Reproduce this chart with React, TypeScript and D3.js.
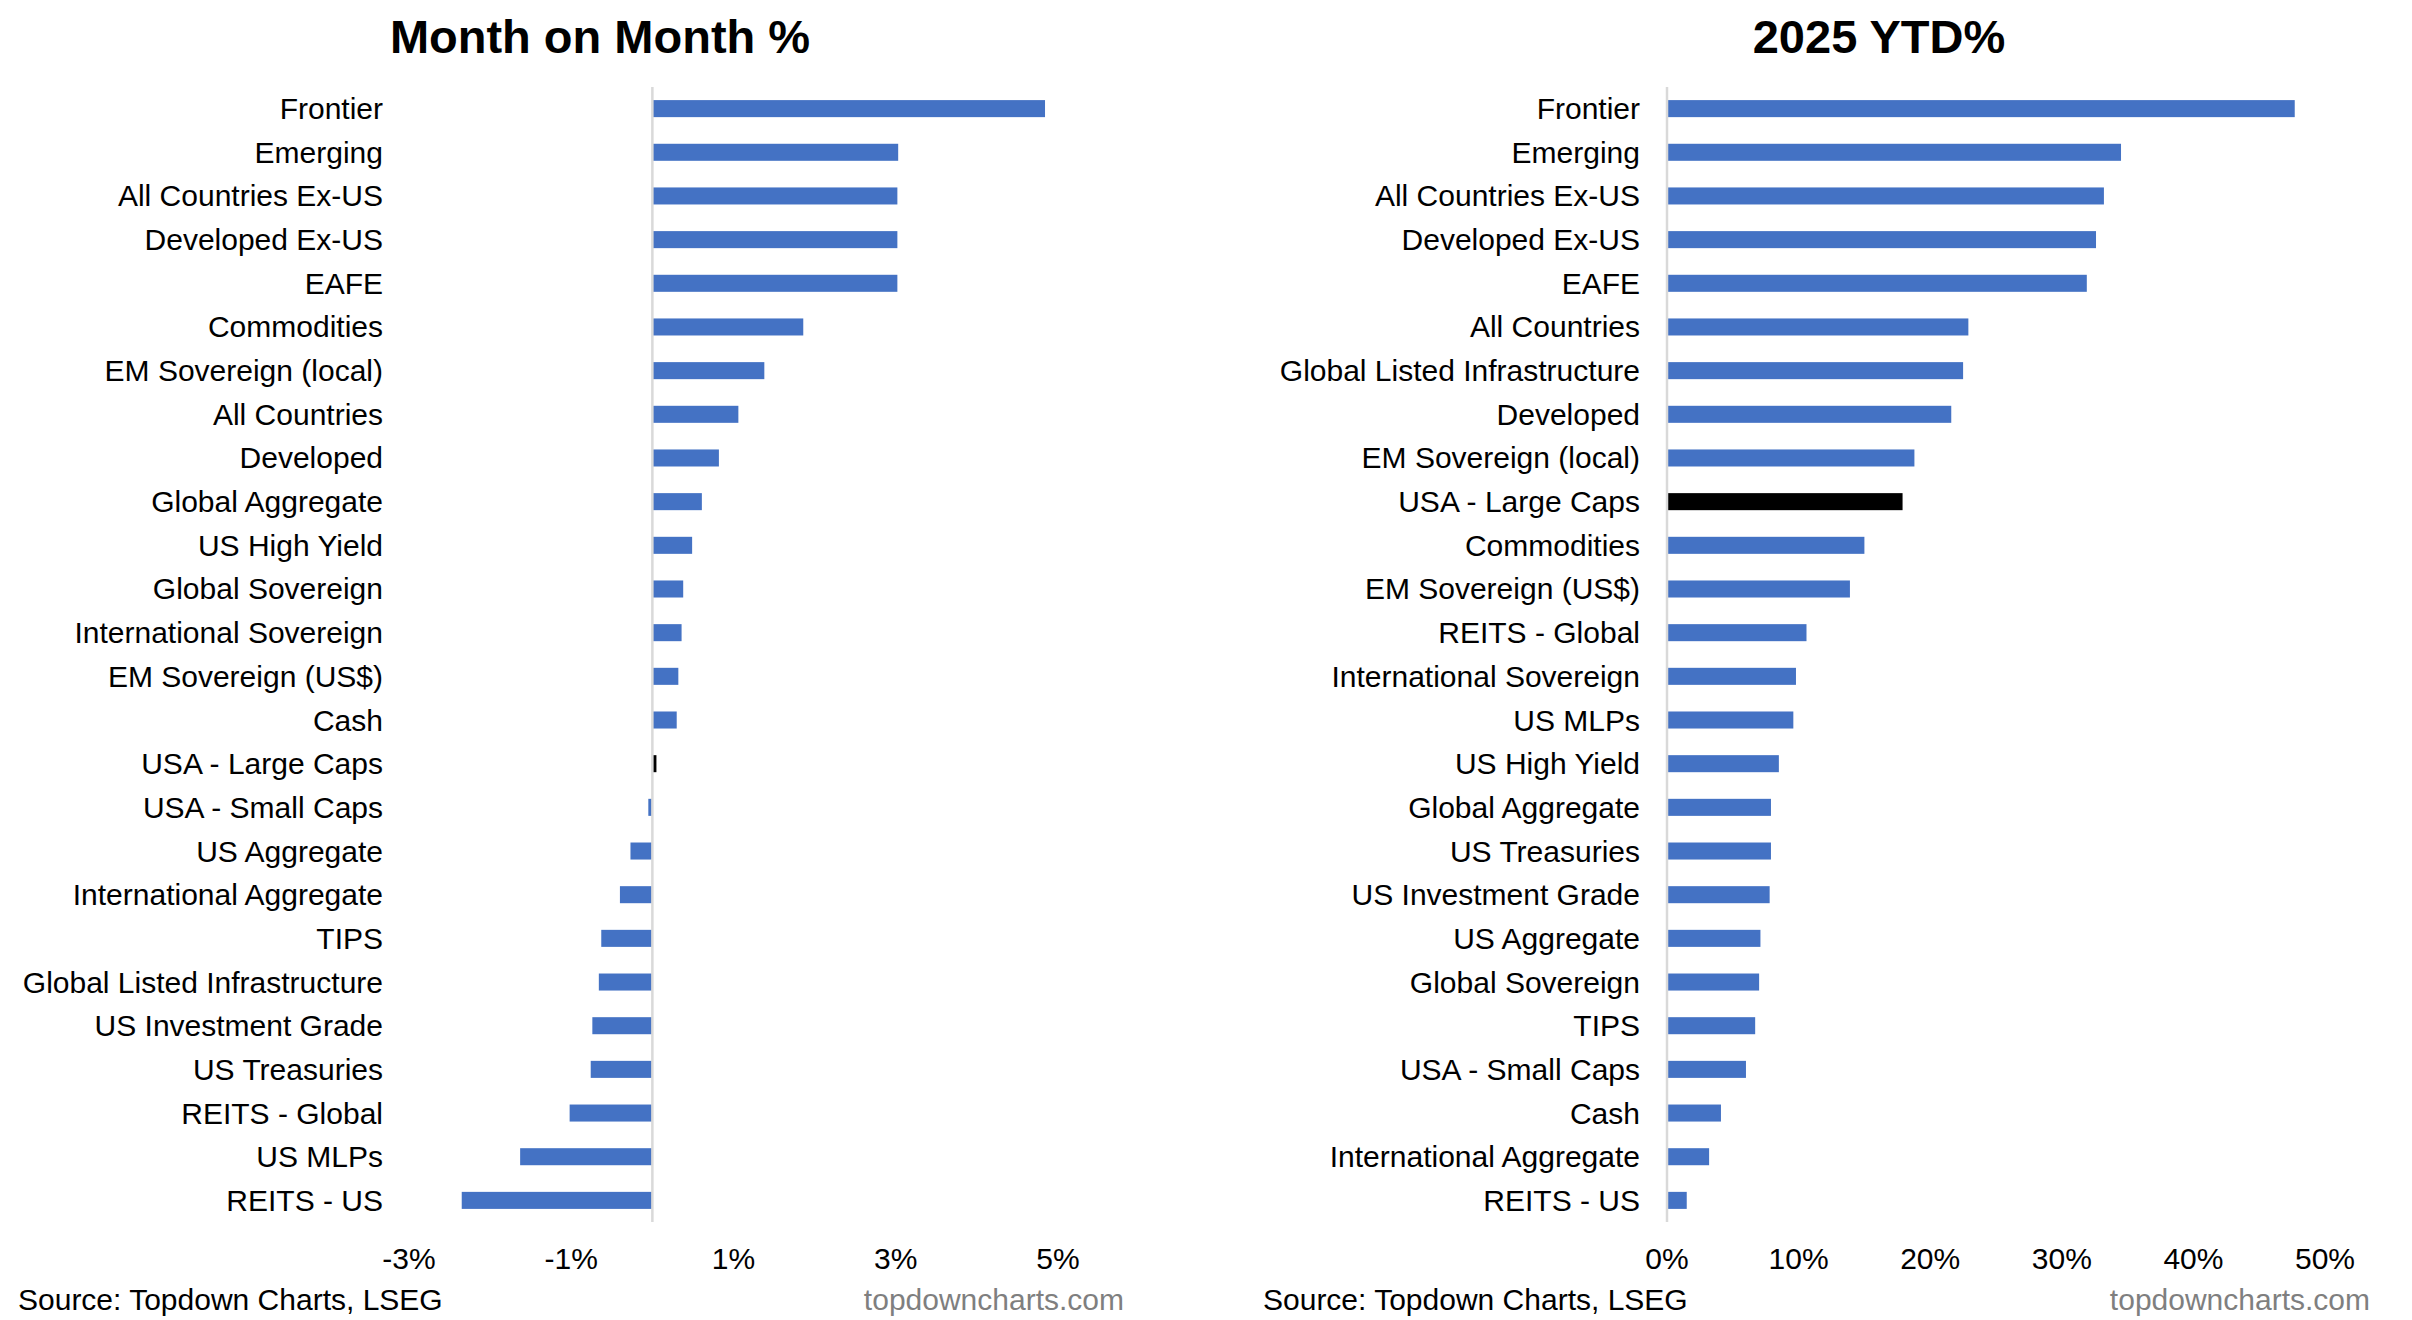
import React from 'react';
import * as d3 from 'd3';

const W = 2412;
const H = 1320;

// Month on Month %, top to bottom as shown
const momLabels = [
  'Frontier', 'Emerging', 'All Countries Ex-US', 'Developed Ex-US', 'EAFE', 'Commodities',
  'EM Sovereign (local)', 'All Countries', 'Developed', 'Global Aggregate', 'US High Yield',
  'Global Sovereign', 'International Sovereign', 'EM Sovereign (US$)', 'Cash', 'USA - Large Caps',
  'USA - Small Caps', 'US Aggregate', 'International Aggregate', 'TIPS', 'Global Listed Infrastructure',
  'US Investment Grade', 'US Treasuries', 'REITS - Global', 'US MLPs', 'REITS - US',
];
const momValues = [
  4.84, 3.03, 3.02, 3.02, 3.02, 1.86,
  1.38, 1.06, 0.82, 0.61, 0.49,
  0.38, 0.36, 0.32, 0.30, 0.05,
  -0.05, -0.27, -0.40, -0.63, -0.66,
  -0.74, -0.76, -1.02, -1.63, -2.35,
];
const momTicks = [-3, -1, 1, 3, 5];

// 2025 YTD %, top to bottom as shown
const ytdLabels = [
  'Frontier', 'Emerging', 'All Countries Ex-US', 'Developed Ex-US', 'EAFE', 'All Countries',
  'Global Listed Infrastructure', 'Developed', 'EM Sovereign (local)', 'USA - Large Caps', 'Commodities',
  'EM Sovereign (US$)', 'REITS - Global', 'International Sovereign', 'US MLPs', 'US High Yield',
  'Global Aggregate', 'US Treasuries', 'US Investment Grade', 'US Aggregate', 'Global Sovereign',
  'TIPS', 'USA - Small Caps', 'Cash', 'International Aggregate', 'REITS - US',
];
const ytdValues = [
  47.7, 34.5, 33.2, 32.6, 31.9, 22.9,
  22.5, 21.6, 18.8, 17.9, 15.0,
  13.9, 10.6, 9.8, 9.6, 8.5,
  7.9, 7.9, 7.8, 7.1, 7.0,
  6.7, 6.0, 4.1, 3.2, 1.5,
];
const ytdTicks = [0, 10, 20, 30, 40, 50];

const HIGHLIGHT = 'USA - Large Caps';
const BLUE = '#4472C4';
const FONT = 'Arial, "Liberation Sans", Helvetica, sans-serif';

interface PanelProps {
  title: string;
  titleX: number;
  labels: string[];
  values: number[];
  ticks: number[];
  domain: [number, number];
  xRange: [number, number];
  labelRight: number;
  sourceX: number;
  siteRight: number;
}

const Panel: React.FC<PanelProps> = ({ title, titleX, labels, values, ticks, domain, xRange, labelRight, sourceX, siteRight }) => {
  const x = d3.scaleLinear().domain(domain).range(xRange);
  const y = d3.scaleBand().domain(labels).range([87, 1222]).paddingInner(0.61).paddingOuter(0.3);
  const x0 = x(0);

  return (
    <g fontFamily={FONT}>
      <text x={titleX} y={53} textAnchor="middle" fontSize={47} fontWeight="bold" fill="#000">{title}</text>

      {labels.map((lab, i) => {
        const v = values[i];
        const yy = y(lab)!;
        return (
          <g key={lab}>
            <rect
              x={Math.min(x(v), x0)}
              y={yy}
              width={Math.abs(x(v) - x0)}
              height={y.bandwidth()}
              fill={lab === HIGHLIGHT ? '#000' : BLUE}
            />
            <text x={labelRight} y={yy + y.bandwidth() / 2} dy="0.35em" textAnchor="end" fontSize={30} fill="#000">
              {lab}
            </text>
          </g>
        );
      })}

      <line x1={x0} x2={x0} y1={87} y2={1222} stroke="#d9d9d9" strokeWidth={2.5} />

      {ticks.map((t) => (
        <text key={t} x={x(t)} y={1258} dy="0.35em" textAnchor="middle" fontSize={30} fill="#000">
          {`${t}%`}
        </text>
      ))}

      <text x={sourceX} y={1299} dy="0.35em" fontSize={30} fill="#000">Source: Topdown Charts, LSEG</text>
      <text x={siteRight} y={1299} dy="0.35em" textAnchor="end" fontSize={30} fill="#7f7f7f">topdowncharts.com</text>
    </g>
  );
};

export default function App() {
  return (
    <svg
      width={W}
      height={H}
      viewBox={`0 0 ${W} ${H}`}
      style={{ position: 'absolute', left: 0, top: 0, background: '#fff' }}
    >
      <rect width={W} height={H} fill="#fff" />
      <Panel
        title="Month on Month %"
        titleX={600}
        labels={momLabels}
        values={momValues}
        ticks={momTicks}
        domain={[-3, 5]}
        xRange={[409, 1058]}
        labelRight={383}
        sourceX={18}
        siteRight={1124}
      />
      <Panel
        title="2025 YTD%"
        titleX={1879}
        labels={ytdLabels}
        values={ytdValues}
        ticks={ytdTicks}
        domain={[0, 50]}
        xRange={[1667, 2325]}
        labelRight={1640}
        sourceX={1263}
        siteRight={2370}
      />
    </svg>
  );
}
